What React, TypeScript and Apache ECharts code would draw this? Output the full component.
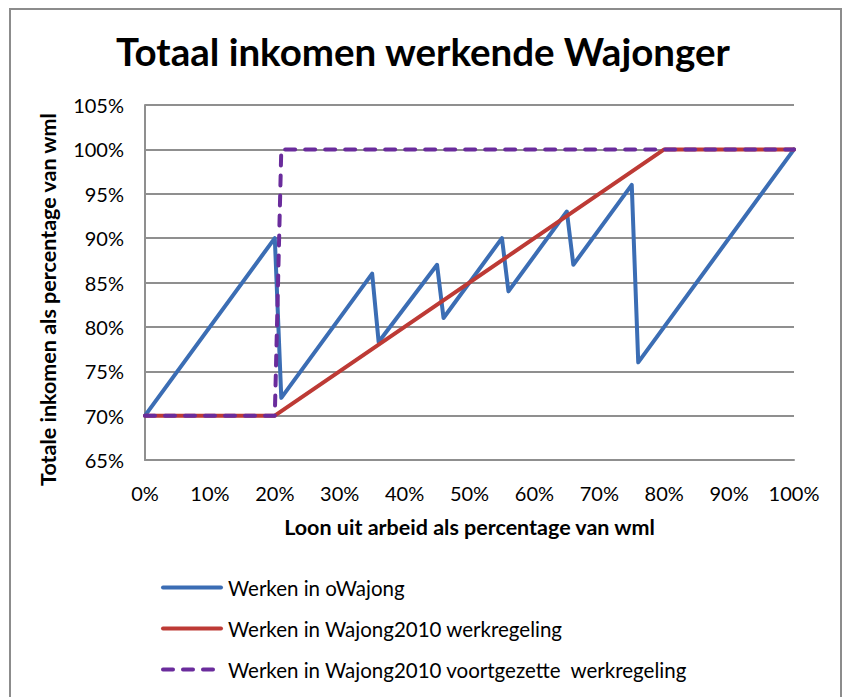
import React, { useEffect, useRef } from "react";
import * as echarts from "echarts";

const titleText = "Totaal inkomen werkende Wajonger";
const xAxisTitle = "Loon uit arbeid als percentage van wml";
const yAxisTitle = "Totale inkomen als percentage van wml";

const seriesNames = [
  "Werken in oWajong",
  "Werken in Wajong2010 werkregeling",
  "Werken in Wajong2010 voortgezette  werkregeling",
];

// Loon uit arbeid (% wml) -> totaal inkomen (% wml)
const oWajongX = [0, 20, 21, 35, 36, 45, 46, 55, 56, 65, 66, 75, 76, 100];
const oWajongY = [70, 90, 72, 86, 78.3, 87, 81, 90, 84, 93, 87, 96, 76, 100];

const werkregelingX = [0, 20, 80, 100];
const werkregelingY = [70, 70, 100, 100];

const voortgezetX = [0, 20, 21, 100];
const voortgezetY = [70, 70, 100, 100];

const xMin = 0;
const xMax = 100;
const xStep = 10;
const yMin = 65;
const yMax = 105;
const yStep = 5;

const zip = (xs: number[], ys: number[]) => xs.map((x, i) => [x, ys[i]]);

const FONT = "Lato";
const BLUE = "#3b6db4";
const RED = "#bd3a35";
const PURPLE = "#6a2c9c";

// legend icons (filled shapes with rounded ends)
const SOLID_ICON = "path://M2,0 H60 A2,2 0 0 1 60,4 H2 A2,2 0 0 1 2,0 Z";
const DASH_ICON =
  "path://M2,0 H12 A2,2 0 0 1 12,4 H2 A2,2 0 0 1 2,0 Z " +
  "M22,0 H32 A2,2 0 0 1 32,4 H22 A2,2 0 0 1 22,0 Z " +
  "M42,0 H52 A2,2 0 0 1 52,4 H42 A2,2 0 0 1 42,0 Z " +
  "M62,2 L62,2 Z";

export default function App() {
  const ref = useRef<HTMLDivElement>(null);

  useEffect(() => {
    if (!ref.current) return;
    const chart = echarts.init(ref.current, undefined, { renderer: "svg" });
    const gridColor = "#8f8f8f";
    chart.setOption({
      animation: false,
      backgroundColor: "#ffffff",
      title: {
        text: titleText,
        left: "center",
        top: 26,
        textStyle: {
          fontFamily: FONT,
          fontWeight: "bold",
          fontSize: 38.5,
          color: "#000",
        },
      },
      graphic: [
        {
          type: "rect",
          shape: { x: 10, y: 9, width: 831, height: 720 },
          style: { fill: "none", stroke: "#8c8c8c", lineWidth: 2 },
          silent: true,
        },
      ],
      grid: { left: 145, top: 105, width: 649, height: 355 },
      xAxis: {
        type: "value",
        min: xMin,
        max: xMax,
        interval: xStep,
        name: xAxisTitle,
        nameLocation: "middle",
        nameGap: 56,
        nameTextStyle: {
          fontFamily: FONT,
          fontWeight: "bold",
          fontSize: 21.5,
          color: "#000",
        },
        axisLine: { show: true, lineStyle: { color: gridColor, width: 2 } },
        axisTick: { show: false },
        splitLine: { show: false },
        axisLabel: {
          formatter: "{value}%",
          margin: 23,
          fontFamily: FONT,
          fontSize: 20,
          color: "#000",
        },
      },
      yAxis: {
        type: "value",
        min: yMin,
        max: yMax,
        interval: yStep,
        name: yAxisTitle,
        nameLocation: "middle",
        nameGap: 86,
        nameTextStyle: {
          fontFamily: FONT,
          fontWeight: "bold",
          fontSize: 21.5,
          color: "#000",
          padding: [0, 34, 0, 0],
        },
        axisLine: { show: true, lineStyle: { color: gridColor, width: 2 } },
        axisTick: { show: false },
        splitLine: { show: true, lineStyle: { color: gridColor, width: 2 } },
        axisLabel: {
          formatter: "{value}%",
          margin: 21,
          fontFamily: FONT,
          fontSize: 20,
          color: "#000",
        },
      },
      legend: {
        orient: "vertical",
        left: 161,
        top: 577,
        padding: 0,
        itemWidth: 62,
        itemHeight: 4,
        itemGap: 20,
        textStyle: { fontFamily: FONT, fontSize: 20.5, color: "#000" },
        data: [
          { name: seriesNames[0], icon: SOLID_ICON, itemStyle: { color: BLUE } },
          { name: seriesNames[1], icon: SOLID_ICON, itemStyle: { color: RED } },
          { name: seriesNames[2], icon: DASH_ICON, itemStyle: { color: PURPLE } },
        ],
      },
      series: [
        {
          name: seriesNames[0],
          type: "line",
          symbol: "none",
          data: zip(oWajongX, oWajongY),
          lineStyle: { color: BLUE, width: 4, join: "round", cap: "round" },
          itemStyle: { color: BLUE },
          z: 2,
        },
        {
          name: seriesNames[1],
          type: "line",
          symbol: "none",
          data: zip(werkregelingX, werkregelingY),
          lineStyle: { color: RED, width: 4, join: "round", cap: "round" },
          itemStyle: { color: RED },
          z: 3,
        },
        {
          name: seriesNames[2],
          type: "line",
          symbol: "none",
          data: zip(voortgezetX, voortgezetY),
          lineStyle: {
            color: PURPLE,
            width: 4,
            type: [10, 10],
            join: "round",
            cap: "round",
          },
          itemStyle: { color: PURPLE },
          z: 4,
        },
      ],
    });
    return () => chart.dispose();
  }, []);

  return (
    <div
      ref={ref}
      style={{ position: "fixed", left: 0, top: 0, width: 846, height: 697 }}
    />
  );
}
